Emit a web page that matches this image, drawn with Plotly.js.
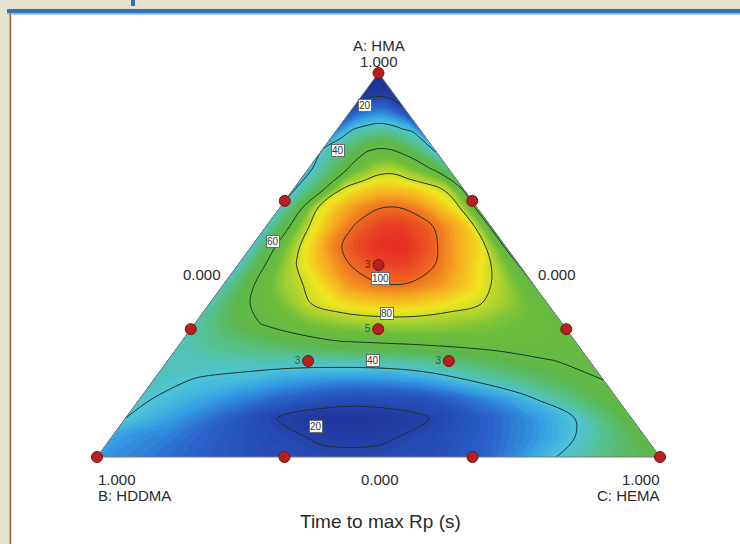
<!DOCTYPE html>
<html><head><meta charset="utf-8">
<script src="https://cdn.plot.ly/plotly-3.0.1.min.js"></script>
<style>html,body{margin:0;padding:0;background:#e6e2d0;}#chart{width:740px;height:544px;}</style>
</head><body><div id="chart"></div>
<script>
// ---- data ----
// rows: fraction of A (HMA); columns: relative position across the row, from the B edge (0) to the C edge (1)
const rowA = [0,0.05,0.1,0.15,0.2,0.25,0.3,0.35,0.4,0.45,0.5,0.55,0.6,0.65,0.7,0.75,0.8,0.85,0.9,0.95,1];
const colT = [0,0.1,0.2,0.3,0.4,0.5,0.6,0.7,0.8,0.9,1];
// Time to max Rp (s) at each grid point
const timeRows = [
  [34,30,26,23,21.5,21.5,23,28,38.5,48,56],
  [35,31,26,22,19,19,22,27,34,43,57],
  [40,34,27,20,16,16.5,20,26,33,41,58],
  [41,37,32,27,23,22.5,24,30,37,47,59],
  [42,39.5,38,35,33,33,35,40,46,53,60],
  [42.5,42.5,42.5,43,43.5,44,46,50,55,59.5,62],
  [43,47,51,55,59.5,61,62.5,64,65,64.5,62],
  [43,54,62,69,74,76,76,74,71,67,62],
  [43,58,68,80,86,88.5,88.5,85,80.5,72,61],
  [42,60,75,84,95,99.5,99.5,95,87,76,60],
  [41,60.5,79,91,100,105,106,100,91,80,59.5],
  [40.5,61,82,95,104,109,110,103,94,86,58],
  [41,59,82,93,101,106,107,103,96,88,58],
  [40.5,56,82,90,96,99.5,100,97,91,83,57],
  [39,48,62,81,86,89,89,87,84,78,58],
  [38,45,52,62,70,76,77,72,66,58,47],
  [40,44,49,54,59,61,60.5,57,52,46,39],
  [31,37,41,43,44.5,45.5,45,43.5,41,39.5,30],
  [24,26,28,29.5,30.5,31,30.5,29.5,27.5,25,22],
  [15,15.6,16.2,16.6,16.9,17,16.9,16.6,16.2,15.6,15],
  [10,10,10,10,10,10,10,10,10,10,10]
];
const contourLevels = [20,40,60,80,100];
// design points (A: HMA, B: HDDMA, C: HEMA)
const ptA = [1,0,0,0.667,0.333,0,0,0.667,0.333,0.5,0.25,0.25,0.333];
const ptB = [0,1,0,0.333,0.667,0.667,0.333,0,0,0.25,0.5,0.25,0.333];
const ptC = [0,0,1,0,0,0.333,0.667,0.333,0.667,0.25,0.25,0.5,0.333];
const ptReps = ['','','','','','','','','','3','3','3','5'];
// boxed contour labels
const labelVals = ['20','40','60','100','80','40','20'];

// ---- geometry / layout helpers ----
const X0 = 97, SX = 563, Y0 = 457, SY = 384; // pixel position of B vertex and size of triangle
const carX = rowA.map(a => colT.map(t => a/2 + t*(1-a)));
const carY = rowA.map(a => colT.map(() => a));
const ptX = ptA.map((a,i) => ptC[i] + a/2);
const labelPx = [[365,99],[338,144],[273,241],[380,278],[387,313],[373,367],[316,433]];

const cs = [
  [0.00,'#1c2a8c'],[0.098,'#2340a8'],[0.176,'#2a62cc'],[0.245,'#35a2e4'],
  [0.294,'#4cc4d8'],[0.353,'#56c090'],[0.441,'#5cb84a'],[0.569,'#6ebd3c'],
  [0.657,'#b0d42e'],[0.725,'#f0e620'],[0.804,'#f6ae20'],[0.892,'#ee6222'],[0.95,'#e83a24'],[1.00,'#e42420']
];
const axHide = {showgrid:false, showticklabels:'none', smoothing:0, minorgridcount:0,
  tickmode:'array', tickvals:[], showline:false};

const traces = [
  {type:'carpet', carpet:'tri', a: colT, b: rowA, x: carX, y: carY,
   aaxis: Object.assign({}, axHide, {startline:true, endline:true, startlinecolor:'#7a7a7a', endlinecolor:'#7a7a7a', startlinewidth:1, endlinewidth:1}),
   baxis: Object.assign({}, axHide, {startline:true, endline:false, startlinecolor:'#7a7a7a', startlinewidth:1})},
  {type:'contourcarpet', carpet:'tri', a: colT, b: rowA, z: timeRows,
   autocontour:false, contours:{start:10, end:112, size:1, coloring:'fill', showlines:false},
   line:{width:0, smoothing:1}, colorscale: cs, showscale:false, hoverinfo:'skip'},
  {type:'contourcarpet', carpet:'tri', a: colT, b: rowA, z: timeRows,
   autocontour:false, contours:{start:contourLevels[0], end:contourLevels[contourLevels.length-1], size:20, coloring:'none'},
   line:{width:1, color:'#1f3326', smoothing:1}, showscale:false, hoverinfo:'skip'},
  {type:'scatter', mode:'markers+text', x: ptX, y: ptA, text: ptReps, textposition:'middle left',
   textfont:{family:'Liberation Sans, Arial, sans-serif', size:10,
     color: ptReps.map((r,i) => ptA[i] >= 0.5 ? '#7a1414' : '#1b6650')},
   marker:{size:11, color:'#b52020', line:{color:'#801010', width:1}},
   cliponaxis:false, hoverinfo:'skip'}
];

const P = (px, py) => ({x: px/740, y: 1 - py/544});
function txt(text, px, py, size, xanchor) {
  const p = P(px, py);
  return {text, x:p.x, y:p.y, xref:'paper', yref:'paper', showarrow:false,
    xanchor: xanchor || 'center', yanchor:'middle',
    font:{family:'Liberation Sans, Arial, sans-serif', size, color:'#2a2a2a'}};
}
const annotations = [
  txt('A: HMA', 379, 45, 15), txt('1.000', 379, 61, 15),
  txt('0.000', 202, 274, 15), txt('0.000', 557, 274, 15),
  txt('0.000', 380, 479, 15),
  txt('1.000', 96, 479, 15, 'left'), txt('B: HDDMA', 96, 495, 15, 'left'),
  txt('1.000', 662, 479, 15, 'right'), txt('C: HEMA', 662, 495, 15, 'right'),
  txt('Time to max Rp (s)', 380, 521, 19)
];
labelVals.forEach((v, i) => {
  const p = P(labelPx[i][0], labelPx[i][1]);
  annotations.push({text:v, x:p.x, y:p.y, xref:'paper', yref:'paper', showarrow:false,
    bgcolor:'#ffffff', bordercolor:'#6a6a6a', borderwidth:1, borderpad:0,
    font:{family:'Liberation Sans, Arial, sans-serif', size:10, color:'#333'}});
});

const shp = (x0,x1,y0,y1,c) => ({type:'rect', xref:'paper', yref:'paper', layer:'below',
  x0:x0/740, x1:x1/740, y0:1-y1/544, y1:1-y0/544, fillcolor:c, line:{width:0}});
const layout = {
  width:740, height:544, margin:{l:0,r:0,t:0,b:0},
  paper_bgcolor:'#e6e2d0', plot_bgcolor:'rgba(0,0,0,0)', showlegend:false,
  xaxis:{range:[-X0/SX, (740-X0)/SX], visible:false, fixedrange:true},
  yaxis:{range:[(Y0-544)/SY, Y0/SY], visible:false, fixedrange:true},
  shapes:[
    shp(11,740,14,544,'#ffffff'),
    shp(7,740,9,13.5,'#3472ba'),
    shp(7,740,13.5,15,'#a9c6e4'),
    shp(9.5,11,13.5,544,'#c4581e'),
    shp(131,135,0,6,'#3472ba')
  ],
  annotations
};
Plotly.newPlot('chart', traces, layout, {displayModeBar:false, staticPlot:true});
</script></body></html>
